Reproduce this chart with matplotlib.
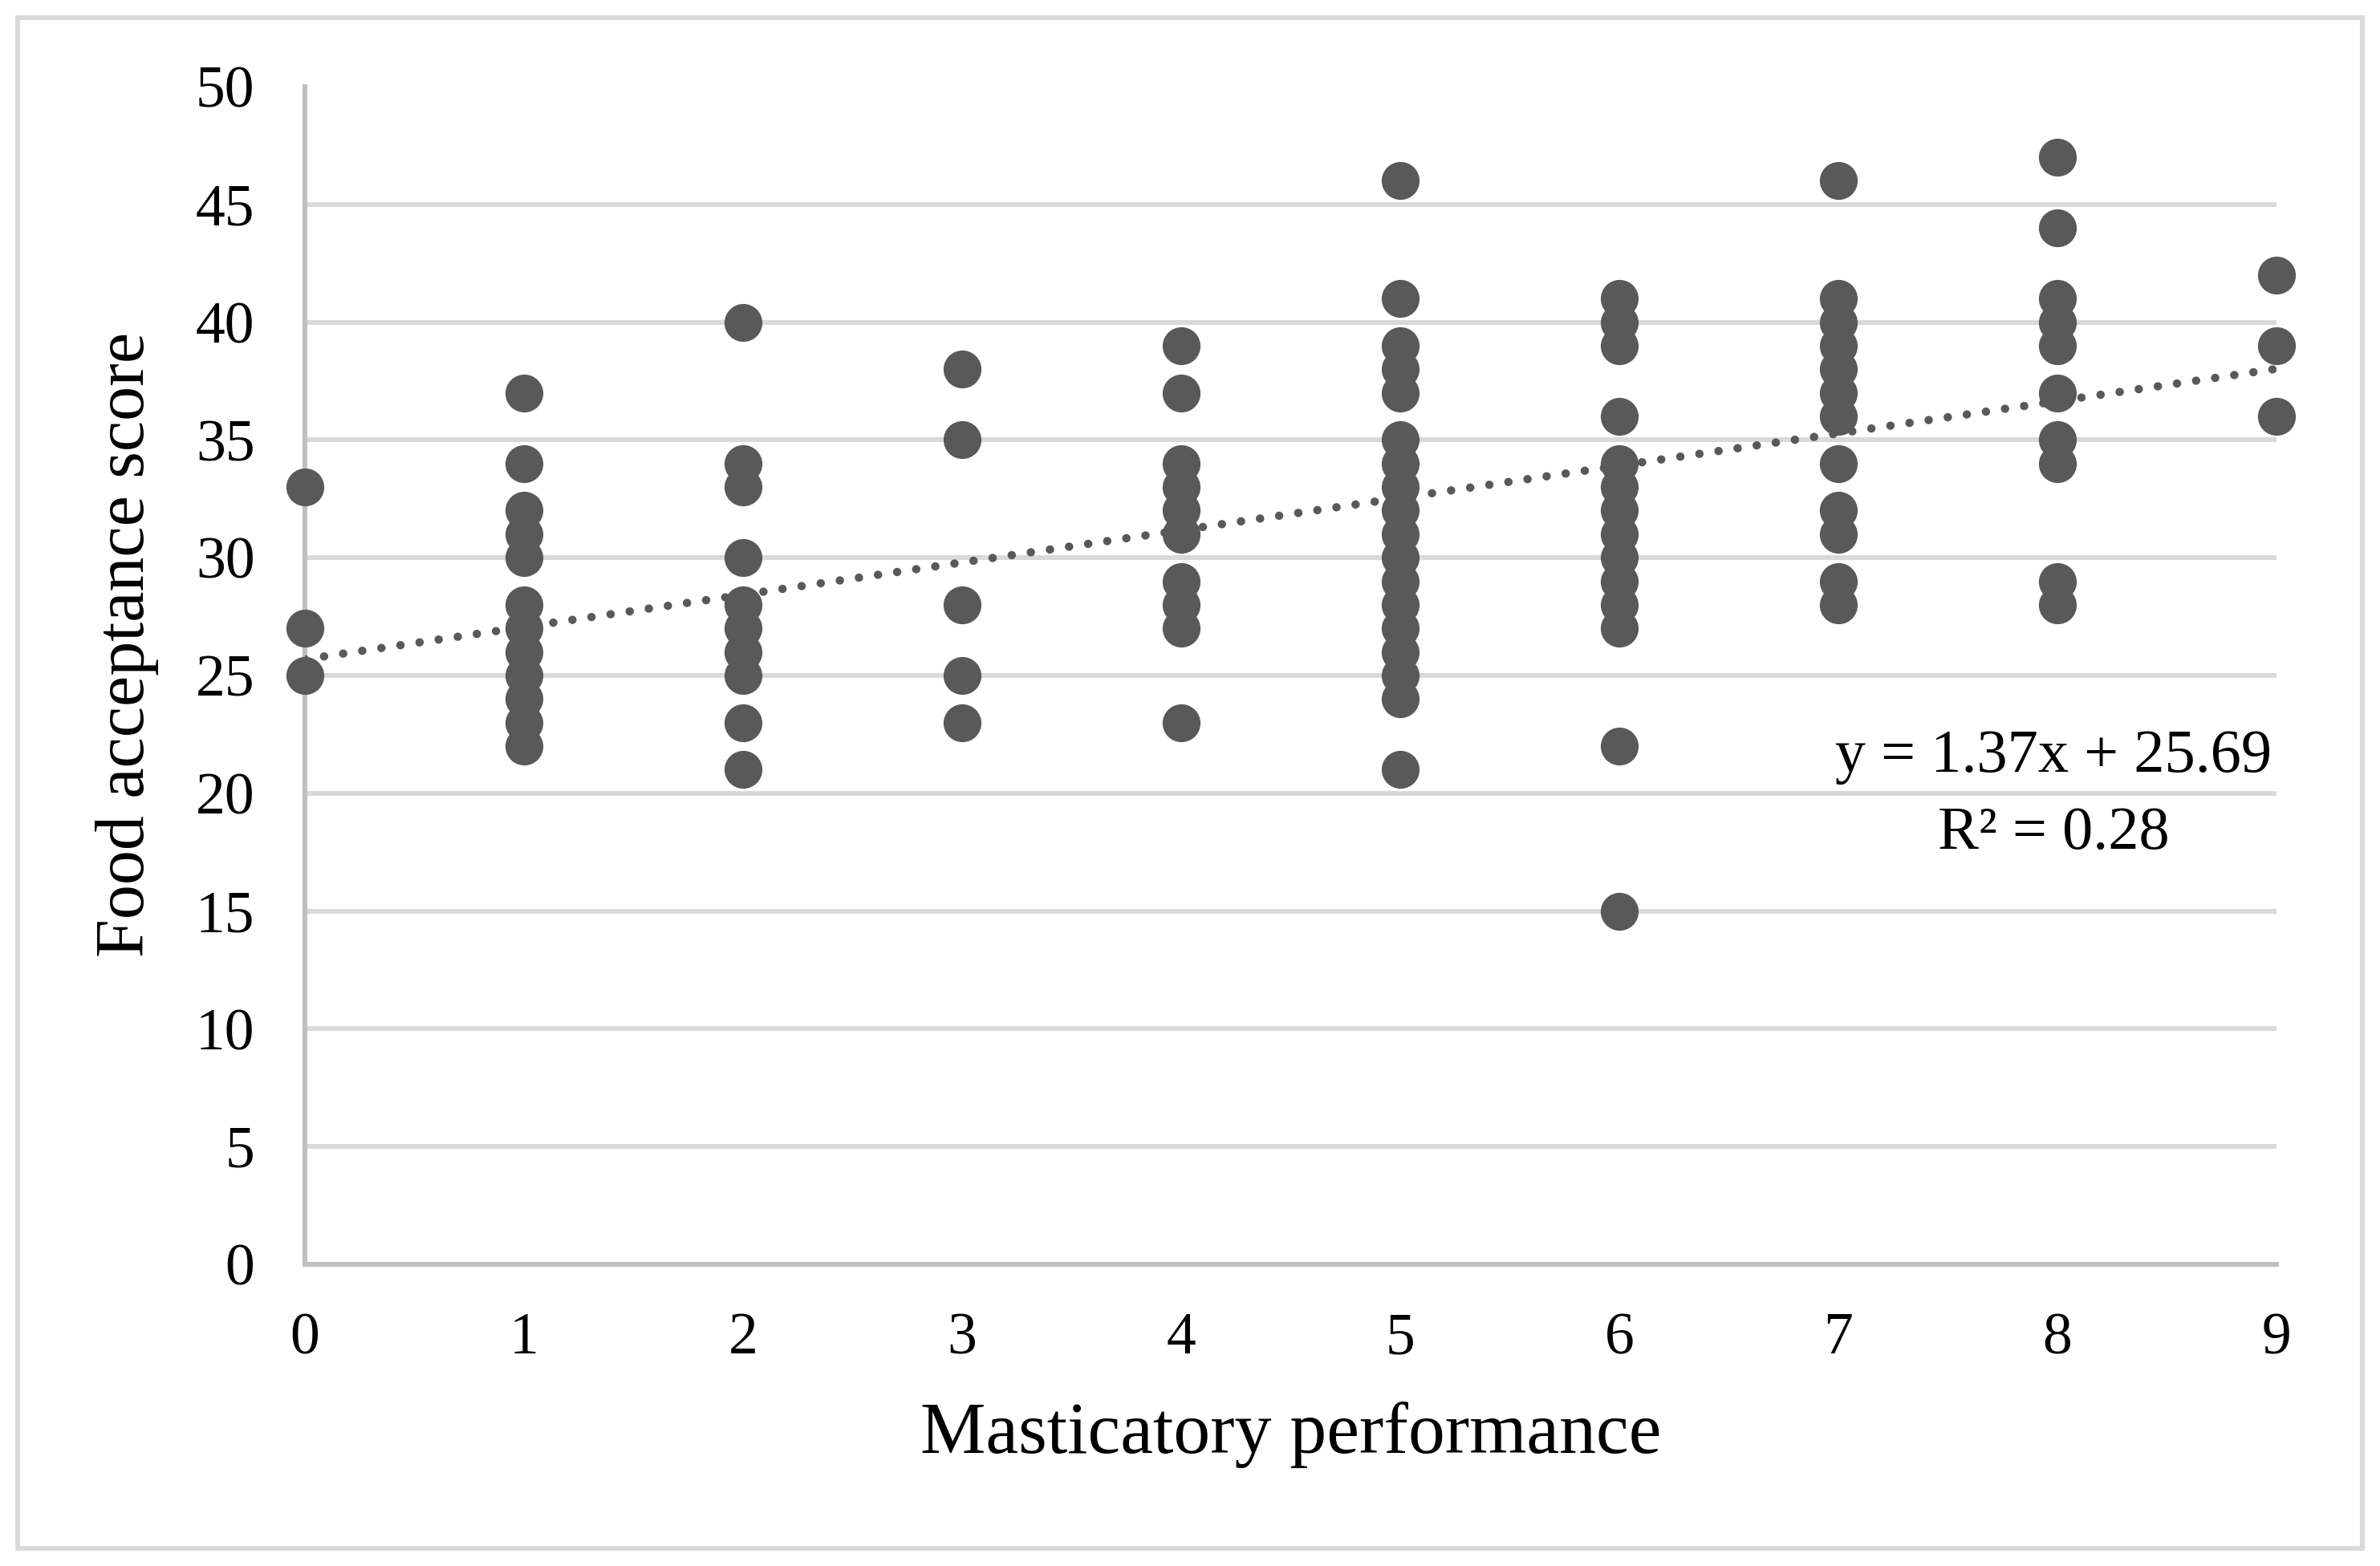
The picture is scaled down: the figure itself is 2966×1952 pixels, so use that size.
import matplotlib
matplotlib.use("Agg")
import matplotlib.pyplot as plt
from matplotlib.patches import Rectangle

# ---- data ----
x0 = [33, 27, 25]
x1 = [37, 34, 32, 31, 30, 28, 27, 26, 25, 24, 23, 22]
x2 = [40, 34, 33, 30, 28, 27, 26, 25, 23, 21]
x3 = [38, 35, 28, 25, 23]
x4 = [39, 37, 34, 33, 32, 31, 29, 28, 27, 23]
x5 = [46, 41, 39, 38, 37, 35, 34, 33, 32, 31, 30, 29, 28, 27, 26, 25, 24, 21]
x6 = [41, 40, 39, 36, 34, 33, 32, 31, 30, 29, 28, 27, 22, 15]
x7 = [46, 41, 40, 39, 38, 37, 36, 34, 32, 31, 29, 28]
x8 = [47, 44, 41, 40, 39, 37, 35, 34, 29, 28]
x9 = [42, 39, 36]
groups = [x0, x1, x2, x3, x4, x5, x6, x7, x8, x9]

slope = 1.37
intercept = 25.69
r2 = 0.28

x_ticks = list(range(0, 10))
y_ticks = list(range(0, 51, 5))

xs, ys = [], []
for mp, vals in enumerate(groups):
    xs += [mp] * len(vals)
    ys += vals

plt.rcParams['font.family'] = ['Liberation Serif', 'DejaVu Serif']

W, H = 2966, 1952
fig = plt.figure(figsize=(W / 100, H / 100), dpi=100)
fig.patches.append(Rectangle((22 / W, 22 / H), (2944 - 22) / W, (1930 - 22) / H,
                             transform=fig.transFigure, fill=False,
                             edgecolor='#d9d9d9', linewidth=4.3, zorder=0))

left, right = 380 / W, 2837 / W
bottom, top = 1 - 1576 / H, 1 - 108 / H
ax = fig.add_axes([left, bottom, right - left, top - bottom])

ax.set_xlim(0, 9)
ax.set_ylim(0, 50)
ax.set_xticks(x_ticks)
ax.set_yticks(y_ticks)

for yv in y_ticks[1:-1]:
    ax.axhline(yv, color='#d9d9d9', linewidth=4.3, zorder=1)

for s in ['top', 'right']:
    ax.spines[s].set_visible(False)
for s in ['left', 'bottom']:
    ax.spines[s].set_color('#bfbfbf')
    ax.spines[s].set_linewidth(4.3)
    ax.spines[s].set_zorder(1.5)

ax.tick_params(axis='both', length=0, labelsize=53, colors='black')
ax.tick_params(axis='x', pad=43)
ax.tick_params(axis='y', pad=45)

ax.plot(xs, ys, linestyle='none', marker='o', markersize=34,
        color='#595959', markeredgewidth=0, clip_on=False, zorder=3)

tx = [x_ticks[0], x_ticks[-1]]
ty = [intercept + slope * t for t in tx]
ax.plot(tx, ty, color='#595959', linewidth=7.5,
        linestyle=(0, (0.01, 2.3)), dash_capstyle='round', zorder=4)

ax.text(0.887, 0.398, f"y = {slope:.2f}x + {intercept:.2f}\nR² = {r2:.2f}",
        transform=ax.transAxes, ha='center', va='center', multialignment='center',
        fontsize=55, linespacing=1.5, zorder=5)

ax.set_xlabel('Masticatory performance', fontsize=66)
ax.set_ylabel('Food acceptance score', fontsize=62)
ax.xaxis.set_label_coords(0.5, -0.1165)
ax.yaxis.set_label_coords(-0.074, 0.526)

fig.savefig('out.png', dpi=100)
